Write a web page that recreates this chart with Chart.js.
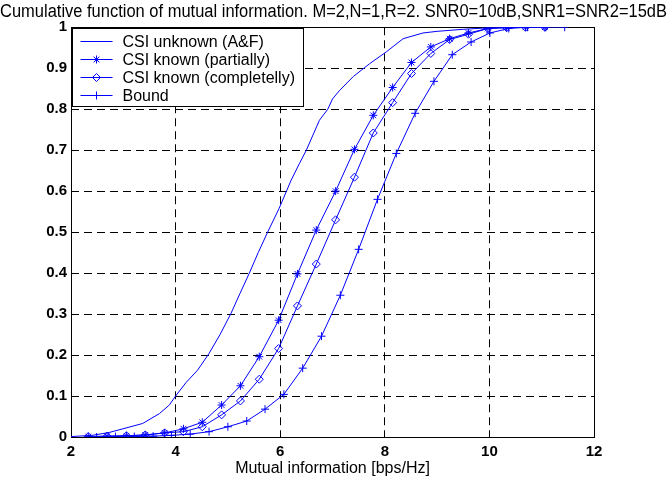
<!DOCTYPE html>
<html>
<head>
<meta charset="utf-8">
<script src="https://cdn.jsdelivr.net/npm/chart.js@4.4.1/dist/chart.umd.min.js"></script>
<style>
  html, body { margin: 0; padding: 0; background: #fff; }
  #wrap { width: 667px; height: 484px; }
</style>
</head>
<body>
<div id="wrap"><canvas id="cdfChart" width="667" height="484"></canvas></div>
<script>
// CSI unknown (A&F) - plain line, no markers
const unknownX = [2.0, 2.4, 2.73, 3.11, 3.37, 3.69, 3.88, 4.0, 4.2, 4.42, 4.64, 4.85, 5.06, 5.23, 5.41, 5.58, 5.76, 5.98, 6.21, 6.37, 6.5, 6.75, 6.91, 7.0, 7.13, 7.4, 7.71, 8.03, 8.35, 8.73, 9.0, 9.5, 9.9, 10.3, 10.6];
const unknownY = [0.001, 0.004, 0.011, 0.024, 0.033, 0.057, 0.078, 0.1, 0.133, 0.163, 0.204, 0.25, 0.302, 0.35, 0.4, 0.45, 0.5, 0.558, 0.627, 0.668, 0.7, 0.773, 0.8, 0.825, 0.845, 0.88, 0.911, 0.94, 0.972, 0.986, 0.99, 0.995, 0.998, 1.0, 1.0];

// CSI known (partially) and (completely) share the same x samples
const knownX = [2.33, 2.69, 3.06, 3.42, 3.79, 4.15, 4.51, 4.88, 5.24, 5.60, 5.97, 6.33, 6.69, 7.06, 7.42, 7.78, 8.15, 8.51, 8.88, 9.24, 9.60, 9.97, 10.33, 10.69, 11.06];
const partialY = [0.001, 0.002, 0.003, 0.005, 0.01, 0.02, 0.036, 0.078, 0.125, 0.196, 0.285, 0.398, 0.505, 0.6, 0.702, 0.785, 0.853, 0.914, 0.952, 0.972, 0.986, 0.997, 0.999, 1.0, 1.0];
const completeY = [0.001, 0.002, 0.003, 0.005, 0.01, 0.013, 0.025, 0.054, 0.088, 0.141, 0.216, 0.32, 0.422, 0.53, 0.634, 0.742, 0.816, 0.887, 0.936, 0.97, 0.983, 0.997, 0.999, 1.0, 1.0];

// Bound
const boundX = [2.49, 2.85, 3.21, 3.57, 3.92, 4.28, 4.64, 5.0, 5.36, 5.71, 6.07, 6.43, 6.79, 7.15, 7.5, 7.86, 8.22, 8.58, 8.94, 9.29, 9.65, 10.01, 10.37, 10.73, 11.08, 11.44];
const boundY = [0.0, 0.001, 0.001, 0.002, 0.004, 0.007, 0.013, 0.025, 0.039, 0.068, 0.104, 0.168, 0.246, 0.346, 0.458, 0.58, 0.692, 0.79, 0.868, 0.933, 0.964, 0.986, 0.997, 1.0, 1.0, 1.0];

const xTicks = [2, 4, 6, 8, 10, 12];
const yTicks = [0, 0.1, 0.2, 0.3, 0.4, 0.5, 0.6, 0.7, 0.8, 0.9, 1];

const seriesNames = ['CSI unknown (A&F)', 'CSI known (partially)', 'CSI known (completelly)', 'Bound'];

const BLUE = '#0000ff';
const FONT = 'Arial, "Liberation Sans", Helvetica, sans-serif';

function pts(xs, ys) {
    return xs.map((x, i) => ({ x: x, y: ys[i] }));
}

// axes box drawn under the curves (MATLAB style)
const boxPlugin = {
    id: 'box',
    beforeDatasetsDraw(chart) {
        const { ctx, chartArea: a } = chart;
        ctx.save();
        ctx.strokeStyle = '#000';
        ctx.lineWidth = 1;
        ctx.setLineDash([]);
        ctx.strokeRect(Math.round(a.left) + 0.5, Math.round(a.top) + 0.5,
            Math.round(a.right - a.left), Math.round(a.bottom - a.top));
        ctx.restore();
    }
};

// legend box inside the plot, top-left
const boxLegend = {
    id: 'boxLegend',
    afterDatasetsDraw(chart) {
        const { ctx, chartArea: a } = chart;
        const left = Math.round(a.left) + 1.5;
        const top = Math.round(a.top) + 1.5;
        const w = 231, h = 78, rowH = 18;
        ctx.save();
        ctx.fillStyle = '#fff';
        ctx.fillRect(left, top, w, h);
        ctx.strokeStyle = '#000';
        ctx.lineWidth = 1;
        ctx.strokeRect(left, top, w, h);
        ctx.font = '16px ' + FONT;
        ctx.textBaseline = 'middle';
        chart.data.datasets.forEach((ds, i) => {
            const y = Math.round(top + 12 + i * rowH) + 0.5;
            ctx.strokeStyle = BLUE;
            ctx.beginPath();
            ctx.moveTo(left + 8, y);
            ctx.lineTo(left + 40, y);
            ctx.stroke();
            if (ds.pointStyle && ds.pointRadius > 0) {
                ctx.fillStyle = 'rgba(0,0,0,0)';
                ctx.strokeStyle = BLUE;
                Chart.helpers.drawPoint(ctx, {
                    pointStyle: ds.pointStyle,
                    radius: ds.pointRadius,
                    borderWidth: 1,
                    rotation: 0
                }, left + 24, y);
            }
            ctx.fillStyle = '#000';
            ctx.fillText(ds.label, left + 50, y + 1);
        });
        ctx.restore();
    }
};

function lineSet(label, data, style) {
    return {
        label: label,
        data: data,
        borderColor: BLUE,
        backgroundColor: 'rgba(0,0,0,0)',
        pointBorderColor: BLUE,
        pointBackgroundColor: 'rgba(0,0,0,0)',
        borderWidth: 1,
        pointBorderWidth: 1,
        pointStyle: style || false,
        pointRadius: style ? 4 : 0,
        tension: 0,
        fill: false
    };
}

const edgeX = [xTicks[0], xTicks[xTicks.length - 1]];
const edgeY = [yTicks[0], yTicks[yTicks.length - 1]];

new Chart('cdfChart', {
    type: 'line',
    data: {
        datasets: [
            lineSet(seriesNames[0], pts(unknownX, unknownY)),
            lineSet(seriesNames[1], pts(knownX, partialY), 'star'),
            lineSet(seriesNames[2], pts(knownX, completeY), 'rectRot'),
            lineSet(seriesNames[3], pts(boundX, boundY), 'cross')
        ]
    },
    options: {
        responsive: false,
        animation: false,
        devicePixelRatio: 1,
        layout: { padding: 0 },
        plugins: {
            legend: { display: false },
            tooltip: { enabled: false },
            title: {
                display: true,
                text: 'Cumulative function of mutual information. M=2,N=1,R=2. SNR0=10dB,SNR1=SNR2=15dB',
                color: '#000',
                font: { family: FONT, size: 17.6, weight: 'normal', lineHeight: 1.15 },
                padding: { top: 2, bottom: 5 }
            }
        },
        scales: {
            x: {
                type: 'linear',
                min: 2,
                max: 12,
                afterFit: s => { s.height = 47; },
                afterBuildTicks: s => { s.ticks = xTicks.map(v => ({ value: v })); },
                ticks: { color: '#000', font: { family: FONT, size: 15, weight: 'bold' }, padding: 6, maxRotation: 0,
                    callback: v => String(v) },
                grid: {
                    drawTicks: false,
                    color: c => edgeX.includes(c.tick && c.tick.value) ? 'rgba(0,0,0,0)' : '#000',
                    lineWidth: 1
                },
                border: { display: false, dash: [8, 5] },
                title: {
                    display: true,
                    text: 'Mutual information [bps/Hz]',
                    color: '#000',
                    font: { family: FONT, size: 16 },
                    padding: { top: 0, bottom: 6 }
                }
            },
            y: {
                type: 'linear',
                min: 0,
                max: 1,
                afterFit: s => { s.width = 71; },
                afterBuildTicks: s => { s.ticks = yTicks.map(v => ({ value: v })); },
                ticks: { color: '#000', font: { family: FONT, size: 15, weight: 'bold' }, padding: 4,
                    callback: v => String(Math.round(v * 10) / 10) },
                grid: {
                    drawTicks: false,
                    color: c => edgeY.includes(c.tick && c.tick.value) ? 'rgba(0,0,0,0)' : '#000',
                    lineWidth: 1
                },
                border: { display: false, dash: [8, 5] }
            },
            // empty right-hand axis, only to leave the white margin on the right
            yRight: {
                type: 'linear',
                position: 'right',
                min: 0,
                max: 1,
                afterFit: s => { s.width = 73; },
                ticks: { display: false },
                grid: { display: false },
                border: { display: false }
            }
        }
    },
    plugins: [boxPlugin, boxLegend]
});
</script>
</body>
</html>
